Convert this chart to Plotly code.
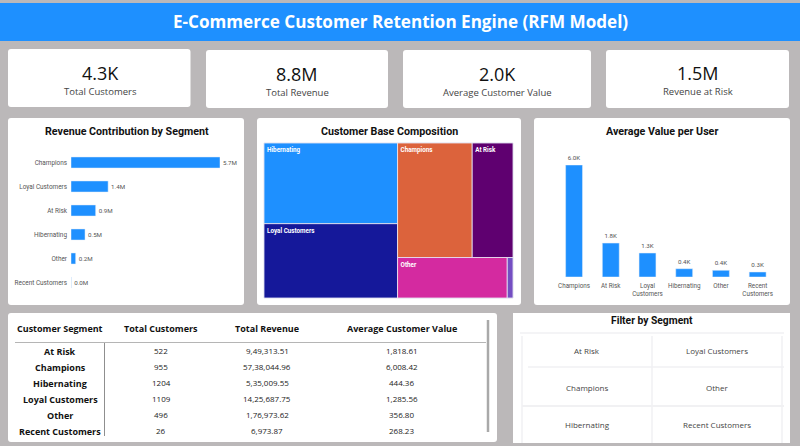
#!/usr/bin/env python3
"""E-Commerce Customer Retention Engine dashboard (RFM model)."""
import plotly.graph_objects as go

W, H = 800, 446

# KPI row
kpi_values = ["4.3K", "8.8M", "2.0K", "1.5M"]
kpi_labels = ["Total Customers", "Total Revenue", "Average Customer Value", "Revenue at Risk"]

# Revenue by segment, in millions
rev_segments = ["Champions", "Loyal Customers", "At Risk", "Hibernating", "Other", "Recent Customers"]
rev_values = [5.74, 1.43, 0.95, 0.54, 0.18, 0.007]
rev_labels = ["5.7M", "1.4M", "0.9M", "0.5M", "0.2M", "0.0M"]

# Treemap, the unnamed groups only force the same block arrangement as the reference
tree_ids = ["left", "right", "top", "bottom", "Hibernating", "Loyal Customers", "Champions", "At Risk", "Other", "Recent Customers"]
tree_parents = ["", "", "right", "right", "left", "left", "top", "top", "bottom", "bottom"]
tree_values = [0, 0, 0, 0, 1204, 1109, 955, 522, 496, 26]
tree_text = ["", "", "", "", "<b>Hibernating</b>", "<b>Loyal Customers</b>", "<b>Champions</b>", "<b>At Risk</b>", "<b>Other</b>", ""]
tree_colors = ["#FFFFFF", "#FFFFFF", "#FFFFFF", "#FFFFFF", "#1E90FF", "#15189A", "#DC633C", "#5F0070", "#D42AA0", "#744EC2"]

# Average value per user
avg_segments = ["Champions", "At Risk", "Loyal<br>Customers", "Hibernating", "Other", "Recent<br>Customers"]
avg_values = [6008.42, 1818.61, 1285.56, 444.36, 356.80, 268.23]
avg_labels = ["6.0K", "1.8K", "1.3K", "0.4K", "0.4K", "0.3K"]

# Table
table_headers = ["Customer Segment", "Total Customers", "Total Revenue", "Average Customer Value"]
table_segments = ["At Risk", "Champions", "Hibernating", "Loyal Customers", "Other", "Recent Customers"]
table_customers = ["522", "955", "1204", "1109", "496", "26"]
table_revenue = ["9,49,313.51", "57,38,044.96", "5,35,009.55", "14,25,687.75", "1,76,973.62", "6,973.87"]
table_average = ["1,818.61", "6,008.42", "444.36", "1,285.56", "356.80", "268.23"]

# Slicer
filter_left = ["At Risk", "Champions", "Hibernating"]
filter_right = ["Loyal Customers", "Other", "Recent Customers"]

BLUE = "#1E90FF"
BACKGROUND = "#BBB8B9"


def px(x):
    return x / W


def py(y):
    return 1 - y / H


def card(x0, y0, x1, y1, color="white", r=3):
    """Rounded rectangle given in pixels from the top left."""
    path = (
        f"M {px(x0 + r)} {py(y0)} L {px(x1 - r)} {py(y0)} Q {px(x1)} {py(y0)} {px(x1)} {py(y0 + r)} "
        f"L {px(x1)} {py(y1 - r)} Q {px(x1)} {py(y1)} {px(x1 - r)} {py(y1)} "
        f"L {px(x0 + r)} {py(y1)} Q {px(x0)} {py(y1)} {px(x0)} {py(y1 - r)} "
        f"L {px(x0)} {py(y0 + r)} Q {px(x0)} {py(y0)} {px(x0 + r)} {py(y0)} Z"
    )
    return dict(type="path", xref="paper", yref="paper", path=path, fillcolor=color,
                line=dict(width=0), layer="below")


def rule(x0, y0, x1, y1, color, width=1):
    return dict(type="line", xref="paper", yref="paper", x0=px(x0), y0=py(y0), x1=px(x1), y1=py(y1),
                line=dict(color=color, width=width), layer="above")


def label(x, y, text, size, color="#111111", family="Open Sans", bold=False):
    if bold:
        text = f"<b>{text}</b>"
    return dict(xref="paper", yref="paper", x=px(x), y=py(y), text=text, showarrow=False,
                xanchor="center", yanchor="middle", font=dict(size=size, color=color, family=family))


fig = go.Figure()

# Revenue bars
fig.add_trace(go.Bar(
    x=rev_values, y=rev_segments, orientation="h", marker_color=BLUE, width=0.46,
    text=rev_labels, textposition="outside", cliponaxis=False,
    textfont=dict(size=6.2, color="#555555", family="Roboto"),
    xaxis="x", yaxis="y", showlegend=False,
))

# Treemap
fig.add_trace(go.Treemap(
    ids=tree_ids, labels=tree_ids, parents=tree_parents, values=tree_values, branchvalues="remainder",
    text=tree_text, textinfo="text", textposition="top left",
    textfont=dict(size=6.3, color="white", family="Roboto"),
    marker=dict(colors=tree_colors, line=dict(color="#E8E8F4", width=0.8), pad=dict(t=0, l=0, r=0, b=0)),
    tiling=dict(packing="slice-dice", pad=0),
    pathbar=dict(visible=False), sort=False,
    domain=dict(x=[px(264), px(513)], y=[py(298), py(143)]),
))

# Average value bars
fig.add_trace(go.Bar(
    x=avg_segments, y=avg_values, marker_color=BLUE, width=0.46,
    text=avg_labels, textposition="outside", cliponaxis=False,
    textfont=dict(size=6.2, color="#555555", family="Roboto"),
    xaxis="x2", yaxis="y2", showlegend=False,
))

shapes = [
    dict(type="rect", xref="paper", yref="paper", x0=0, y0=0, x1=1, y1=1, fillcolor=BACKGROUND,
         line=dict(width=0), layer="below"),
    dict(type="rect", xref="paper", yref="paper", x0=0, y0=py(41), x1=1, y1=py(3), fillcolor=BLUE,
         line=dict(width=0), layer="below"),
    card(8, 49, 190.5, 107),
    card(206, 50, 388, 108),
    card(403, 50, 591, 108),
    card(606, 50, 789, 108),
    card(8, 118, 244, 305),
    card(257, 118, 521, 305),
    card(534, 118, 790, 305),
    card(8, 313, 497, 442),
    card(513, 313, 790, 443, r=0),
    # table rules and scrollbar
    rule(15, 342.5, 486, 342.5, "#B5B5B5", 1),
    rule(104.5, 343, 104.5, 436, "#8F8F8F", 1),
    rule(488, 320, 488, 432, "#A9A9A9", 2.5),
    # slicer grid
    rule(520, 333, 784, 333, "#F1F1F3", 1.5),
    rule(522, 336, 522, 443, "#F1F1F3", 1.5),
    rule(652, 336, 652, 443, "#F1F1F3", 1.5),
    rule(782, 336, 782, 443, "#F1F1F3", 1.5),
    rule(528, 367, 784, 367, "#F1F1F3", 1.5),
    rule(522, 406, 784, 406, "#F1F1F3", 2),
]

annotations = [
    label(400, 21, "E-Commerce Customer Retention Engine (RFM Model)", 17.1, "white", bold=True),
    label(127, 131, "Revenue Contribution by Segment", 10.7, "#111111", "Roboto", True),
    label(389, 131, "Customer Base Composition", 10.7, "#111111", "Roboto", True),
    label(662, 131, "Average Value per User", 10.7, "#111111", "Roboto", True),
    label(652, 320, "Filter by Segment", 10.3, "#111111", "Roboto", True),
]

kpi_centers = [100, 297, 497, 698]
kpi_rows = [(73, 91), (74, 92), (74, 92), (73, 91)]
for cx, (vy, ly), value, name in zip(kpi_centers, kpi_rows, kpi_values, kpi_labels):
    annotations.append(label(cx, vy, value, 18, "#111111", "Open Sans"))
    annotations.append(label(cx, ly, name, 9.5, "#444444", "Open Sans"))

# go.Table forces a minimum row height well above the 16 px used here, so cells are placed as text
table_columns = [60, 161, 267, 402]
for cx, header in zip(table_columns, table_headers):
    annotations.append(label(cx, 328.5, header, 9, "#111111", "Open Sans", True))
table_rows = [351, 367, 383, 399, 415, 431]
for i, y in enumerate(table_rows):
    annotations.append(label(table_columns[0], y, table_segments[i], 9, "#111111", "Open Sans", True))
    annotations.append(label(table_columns[1], y - 0.5, table_customers[i], 8, "#222222", "Open Sans"))
    annotations.append(label(table_columns[2], y - 0.5, table_revenue[i], 8, "#222222", "Open Sans"))
    annotations.append(label(table_columns[3], y - 0.5, table_average[i], 8, "#222222", "Open Sans"))

for y, left, right in zip([350, 387, 424], filter_left, filter_right):
    annotations.append(label(587, y, left, 8, "#444444", "Open Sans"))
    annotations.append(label(717, y, right, 8, "#444444", "Open Sans"))

fig.update_layout(
    width=W, height=H, margin=dict(l=0, r=0, t=0, b=0),
    paper_bgcolor=BACKGROUND, plot_bgcolor="rgba(0,0,0,0)",
    shapes=shapes, annotations=annotations,
    xaxis=dict(domain=[px(71), px(220)], range=[0, 5.74], visible=False, anchor="y"),
    yaxis=dict(domain=[py(294.5), py(150.5)], autorange="reversed", type="category", anchor="x",
               showgrid=False, zeroline=False, showline=False, ticks="", ticklabelstandoff=3,
               tickfont=dict(size=6.4, color="#555555", family="Roboto")),
    xaxis2=dict(domain=[px(555.7), px(776)], type="category", anchor="y2", showgrid=False,
                zeroline=False, showline=False, ticks="", ticklabelstandoff=4,
                tickfont=dict(size=6.3, color="#555555", family="Roboto"), tickangle=0),
    yaxis2=dict(domain=[py(277), py(165)], range=[0, 6008.42], visible=False, anchor="x2"),
)

fig.write_html("out.html", config={"displayModeBar": False},
               post_script="document.body.style.margin='0';document.body.style.overflow='hidden';")
